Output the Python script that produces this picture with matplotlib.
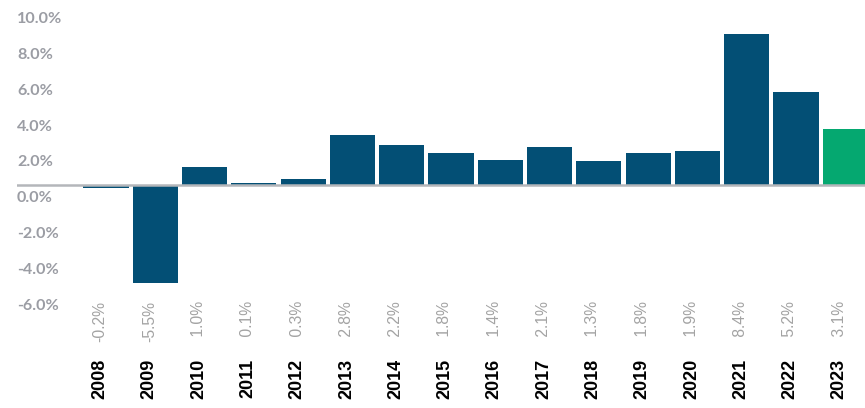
import matplotlib
matplotlib.use("Agg")
import matplotlib.pyplot as plt
from matplotlib import transforms

# data
years = ["2008", "2009", "2010", "2011", "2012", "2013", "2014", "2015",
         "2016", "2017", "2018", "2019", "2020", "2021", "2022", "2023"]
growth = [-0.2, -5.5, 1.0, 0.1, 0.3, 2.8, 2.2, 1.8,
          1.4, 2.1, 1.3, 1.8, 1.9, 8.4, 5.2, 3.1]
y_ticks = [10, 8, 6, 4, 2, 0, -2, -4, -6]

BLUE = "#034f75"
GREEN = "#05a870"
GREY = "#9b9da4"

W, H = 865, 408
fig = plt.figure(figsize=(W / 100, H / 100), dpi=100)
ax = fig.add_axes([17 / W, 1 - 295 / H, (865 - 17) / W, 295 / H])

x = list(range(len(years)))
colors = [BLUE] * (len(years) - 1) + [GREEN]
ax.bar(x, growth, width=0.915, color=colors, zorder=2)
ax.axhline(0, color="#b4b6ba", linewidth=1.8, zorder=3)

ax.set_xlim(-1.805, 15.4)
ax.set_ylim(-6.16, 10.32)
ax.axis("off")

# y labels sit a little below their levels, as in the reference
ytrans = transforms.offset_copy(ax.get_yaxis_transform(), fig=fig, x=0, y=-13.5, units="dots")
for v in y_ticks:
    ax.text(0, v, f"{v:.1f}%", transform=ytrans, ha="left", va="center",
            fontsize=11.6, fontweight="bold", color=GREY, family="Lato")

# rotated value and year labels below the plot
xtrans = transforms.offset_copy(ax.get_xaxis_transform(), fig=fig, x=-6, y=0, units="dots")
for i, (yr, g) in enumerate(zip(years, growth)):
    lab = f"{g:.1f}%" if g < 0 else f" {g:.1f}%"
    ax.text(i, -0.02, lab, transform=xtrans, rotation=90, ha="center", va="top",
            fontsize=11.3, color="#a3a3a3", family="Liberation Sans")
    ax.text(i, -0.215, yr, transform=xtrans, rotation=90, ha="center", va="top",
            fontsize=13, fontweight="bold", color="black", family="Liberation Sans")

fig.savefig("out.png", dpi=100)
